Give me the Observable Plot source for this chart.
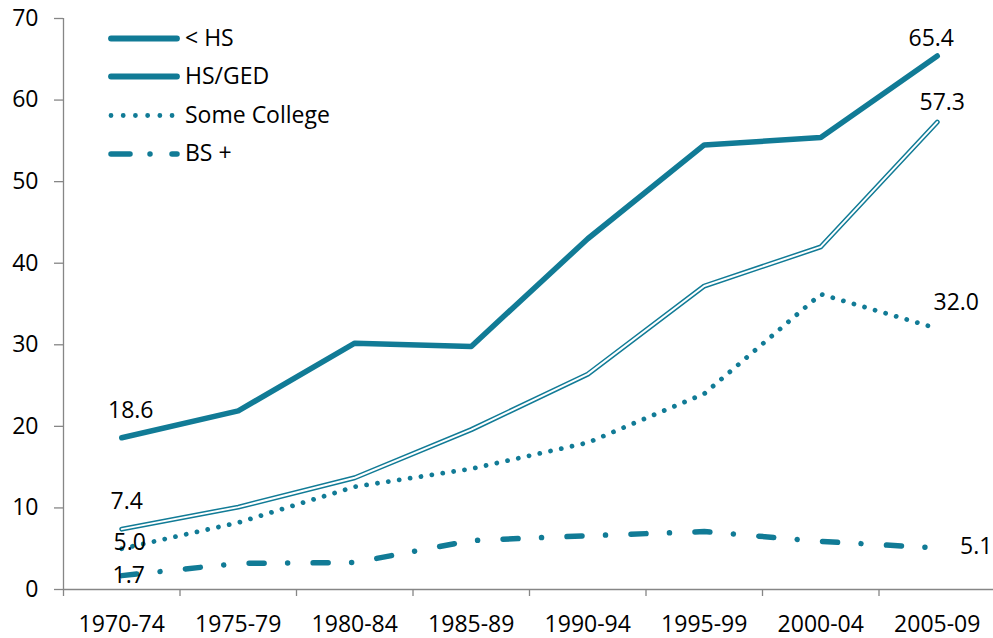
<!DOCTYPE html>
<html>
<head>
<meta charset="utf-8">
<script src="https://cdn.jsdelivr.net/npm/d3@7"></script>
<script src="https://cdn.jsdelivr.net/npm/@observablehq/plot@0.6"></script>
<style>
  html, body { margin: 0; padding: 0; background: #fff; }
  #wrap { position: relative; width: 993px; height: 638px; font-family: "Open Sans", sans-serif; }
  #legend { position: absolute; left: 0; top: 0; pointer-events: none; }
</style>
</head>
<body>
<div id="wrap"></div>
<script>
// ---- data ----
const categories = ["1970-74", "1975-79", "1980-84", "1985-89", "1990-94", "1995-99", "2000-04", "2005-09"];
const seriesNames = ["< HS", "HS/GED", "Some College", "BS +"];
const lessHS      = [18.6, 21.9, 30.2, 29.8, 43.0, 54.5, 55.4, 65.4];
const hsGed       = [7.4, 10.1, 13.7, 19.6, 26.4, 37.2, 42.0, 57.3];
const someCollege = [5.0, 8.2, 12.6, 14.8, 18.0, 24.0, 36.2, 32.0];
const bsPlus      = [1.7, 3.2, 3.3, 6.0, 6.6, 7.1, 5.9, 5.1];
const yTicks = [0, 10, 20, 30, 40, 50, 60, 70];

const TEAL = "#117b96";
const GRAY = "#868686";

const rows = (vals, name) => vals.map((v, i) => ({series: name, i: i + 0.5, cat: categories[i], value: v}));
const dLess = rows(lessHS, seriesNames[0]);
const dHs = rows(hsGed, seriesNames[1]);
const dSome = rows(someCollege, seriesNames[2]);
const dBs = rows(bsPlus, seriesNames[3]);

const first = d => [d[0]];
const last = d => [d[d.length - 1]];
const fmt = d => d.value.toFixed(1);

const textOpts = {x: "i", y: "value", text: fmt, fill: "#000", fontSize: 23, textAnchor: "middle"};

const chart = Plot.plot({
  width: 993,
  height: 638,
  marginTop: 18,
  marginBottom: 49,
  marginLeft: 63,
  marginRight: 0,
  x: {domain: [0, categories.length], range: [63, 995]},
  y: {domain: [0, 70]},
  style: {fontFamily: "Open Sans", fontSize: "23px", color: "#000", background: "transparent", overflow: "visible"},
  marks: [
    Plot.ruleX([0], {stroke: GRAY, strokeWidth: 1.3}),
    Plot.ruleY([0], {stroke: GRAY, strokeWidth: 1.3}),
    Plot.axisY({ticks: yTicks, tickSize: 9, tickPadding: 16, stroke: GRAY, strokeWidth: 1.3, fill: "#000", fontSize: 23, label: null}),
    Plot.axisX({ticks: d3.range(0, categories.length + 1), tickSize: 7, stroke: GRAY, strokeWidth: 1.3, tickFormat: () => "", label: null}),
    Plot.axisX({ticks: categories.map((_, i) => i + 0.5), tickSize: 0, tickPadding: 26, tickFormat: v => categories[Math.floor(v)], fill: "#000", fontSize: 23, label: null}),
    // BS +
    Plot.line(dBs, {x: "i", y: "value", stroke: TEAL, strokeWidth: 5.5, strokeLinecap: "round", strokeDasharray: "15,23.5,0.01,25.5"}),
    // Some College
    Plot.line(dSome, {x: "i", y: "value", stroke: TEAL, strokeWidth: 4.8, strokeLinecap: "round", strokeDasharray: "0.01,11"}),
    // HS/GED double line
    Plot.line(dHs, {x: "i", y: "value", stroke: TEAL, strokeWidth: 5, strokeLinecap: "round", strokeLinejoin: "round"}),
    Plot.line(dHs, {x: "i", y: "value", stroke: "#fff", strokeWidth: 2, strokeLinecap: "round", strokeLinejoin: "round"}),
    // < HS
    Plot.line(dLess, {x: "i", y: "value", stroke: TEAL, strokeWidth: 5.5, strokeLinecap: "round", strokeLinejoin: "round"}),
    // value labels
    Plot.text(first(dLess), {...textOpts, dx: 9, dy: -27}),
    Plot.text(first(dHs), {...textOpts, dx: 5, dy: -28}),
    Plot.text(first(dSome), {...textOpts, dx: 8, dy: -6}),
    Plot.text(first(dBs), {...textOpts, dx: 7, dy: 0}),
    Plot.text(last(dLess), {...textOpts, dx: -6, dy: -17}),
    Plot.text(last(dHs), {...textOpts, dx: 5, dy: -19}),
    Plot.text(last(dSome), {...textOpts, dx: 19, dy: -26}),
    Plot.text(last(dBs), {...textOpts, dx: 39, dy: -1})
  ]
});

const wrap = document.getElementById("wrap");
wrap.appendChild(chart);

// ---- legend (inside plot area, top-left) ----
const legendStyles = [
  {w: 5.8, dash: null},
  {w: 5.8, dash: null},
  {w: 4.8, dash: "0.01,12.2"},
  {w: 5.5, dash: "19,20,0.01,22"}
];
const leg = d3.select(wrap).append("svg")
  .attr("id", "legend")
  .attr("width", 993)
  .attr("height", 200);
const rowsY = [38.5, 76.5, 115.5, 154];
seriesNames.forEach((name, k) => {
  const g = leg.append("g").attr("transform", `translate(0,${rowsY[k]})`);
  const s = legendStyles[k];
  g.append("line")
    .attr("x1", 111).attr("x2", 177).attr("y1", 0).attr("y2", 0)
    .attr("stroke", TEAL).attr("stroke-width", s.w)
    .attr("stroke-linecap", "round")
    .attr("stroke-dasharray", s.dash);
  g.append("text")
    .attr("x", 185).attr("y", 0).attr("dy", "0.32em")
    .attr("font-family", "Open Sans").attr("font-size", 23).attr("fill", "#000")
    .text(name);
});
</script>
</body>
</html>
